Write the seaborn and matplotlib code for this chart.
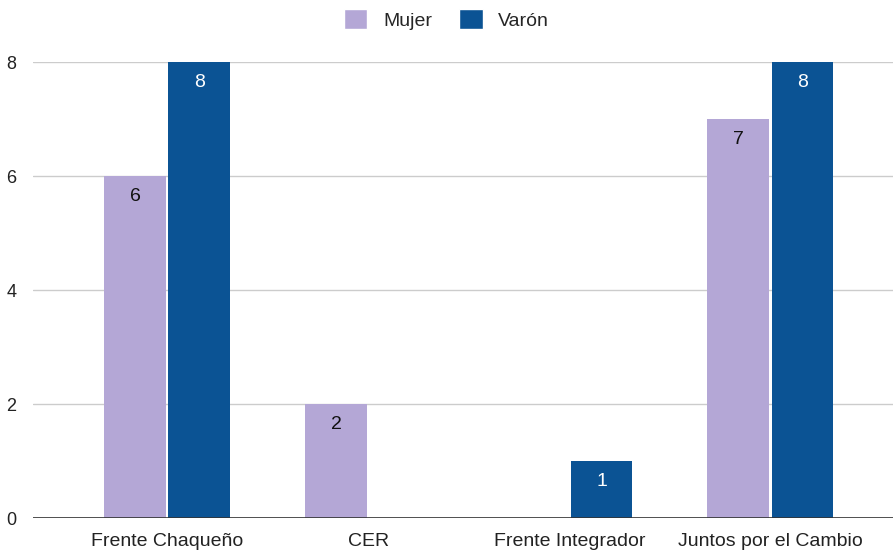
import numpy as np
import pandas as pd
import matplotlib.pyplot as plt
import seaborn as sns
from matplotlib.patches import Patch

# --- datos ---
partidos = ['Frente Chaqueño', 'CER', 'Frente Integrador', 'Juntos por el Cambio']
mujer = [6, 2, 0, 7]
varon = [8, 0, 1, 8]
series = ['Mujer', 'Varón']
colores = ['#b4a7d6', '#0b5394']

df = pd.DataFrame({
    'partido': partidos * 2,
    'genero': ['Mujer'] * len(partidos) + ['Varón'] * len(partidos),
    'valor': mujer + varon,
})

sns.set_theme(style='white')
plt.rcParams['font.family'] = ['Liberation Sans', 'DejaVu Sans']

fig = plt.figure(figsize=(8.93, 5.5), dpi=100)
ax = fig.add_axes([0.037, 0.058, 0.963, 0.829])

sns.barplot(data=df, x='partido', y='valor', hue='genero', order=partidos,
            hue_order=series, palette=colores, width=0.64, gap=0.04,
            saturation=1, ax=ax, legend=False, zorder=3, linewidth=0)

# etiquetas dentro de las barras
for cont, col in zip(ax.containers, ['#111111', '#ffffff']):
    for rect in cont:
        h = rect.get_height()
        if h <= 0:
            continue
        ax.text(rect.get_x() + rect.get_width() / 2, h - 0.36, f'{h:g}',
                ha='center', va='center', color=col, fontsize=14)

ax.set_ylim(0, 8)
ax.set_xlim(-0.667, 3.61)
ax.set_yticks([0, 2, 4, 6, 8])
ax.grid(axis='y', color='#cccccc', linewidth=1, zorder=0)
ax.axhline(0, color='#333333', linewidth=1.2, zorder=4)
for s in ax.spines.values():
    s.set_visible(False)
ax.set_xlabel('')
ax.set_ylabel('')
ax.tick_params(axis='y', labelsize=13, colors='#222222', pad=12, length=0)
ax.tick_params(axis='x', labelsize=14, colors='#222222', pad=11, length=0)

# leyenda arriba
handles = [Patch(facecolor=c, label=s) for c, s in zip(colores, series)]
fig.legend(handles=handles, loc='upper center', bbox_to_anchor=(0.5, 1.015),
           ncol=2, frameon=False, fontsize=14, handlelength=1.2,
           handleheight=1.2, columnspacing=1.4, handletextpad=0.8)

fig.savefig('out.png', dpi=100)
